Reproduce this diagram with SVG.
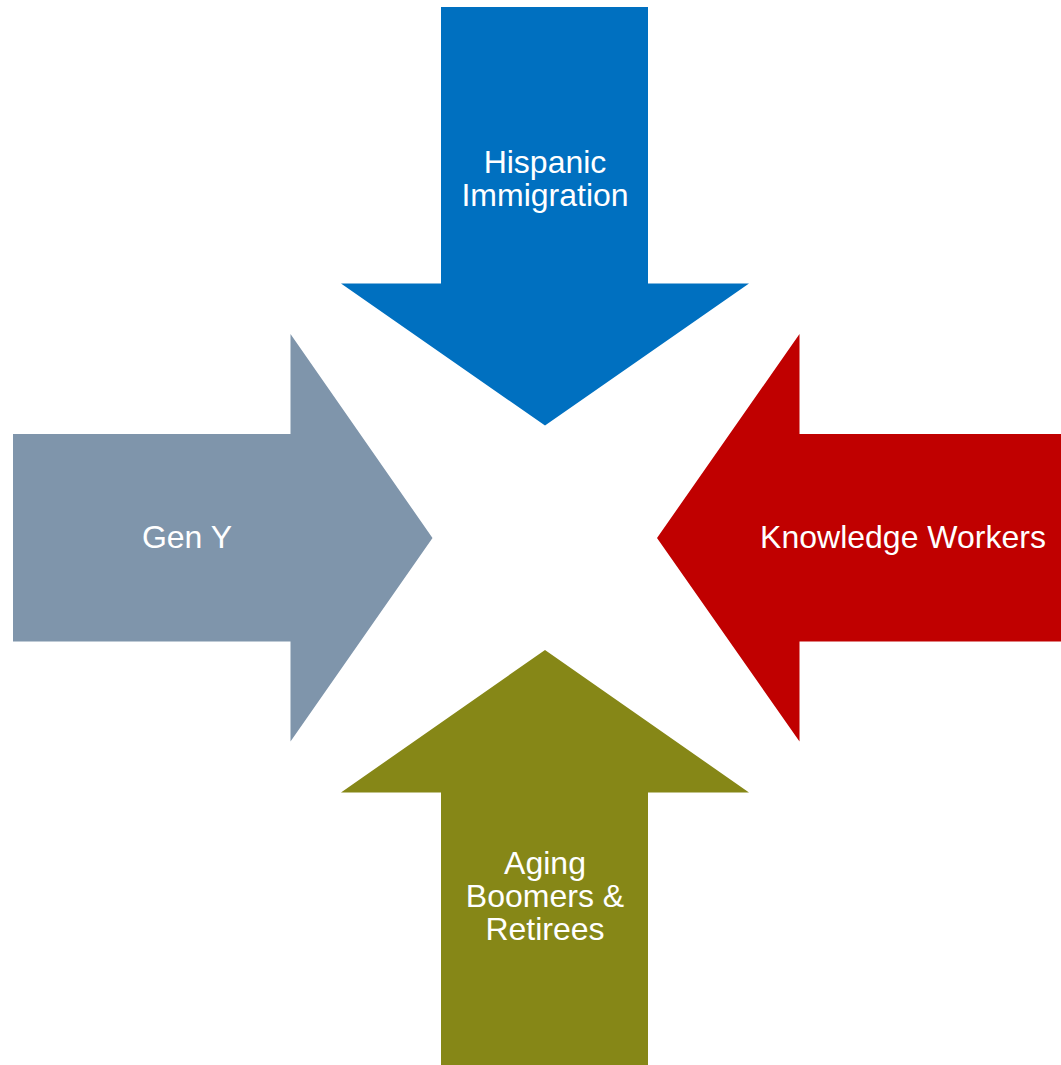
<svg xmlns="http://www.w3.org/2000/svg" width="1061" height="1065" viewBox="0 0 1061 1065">
<style>
.t{font-family:"Liberation Sans",Arial,sans-serif;font-size:32px;fill:#ffffff;text-anchor:middle}
</style>
<rect width="1061" height="1065" fill="#ffffff"/>
<g id="hispanic">
<polygon points="441,7 648,7 648,283.5 749,283.5 545,425.5 341,283.5 441,283.5" fill="#0070C0"/>
<text class="t" x="545" y="173">Hispanic</text>
<text class="t" x="545" y="206">Immigration</text>
</g>
<g id="geny">
<polygon points="13,434 290.5,434 290.5,334 432.5,538 290.5,741.5 290.5,641.5 13,641.5" fill="#7F95AB"/>
<text class="t" x="187" y="548">Gen Y</text>
</g>
<g id="knowledge">
<polygon points="1061,434 799.5,434 799.5,334 657,538 799.5,741.5 799.5,641.5 1061,641.5" fill="#C00000"/>
<text class="t" x="903" y="548">Knowledge Workers</text>
</g>
<g id="aging">
<polygon points="441,1065 648,1065 648,792.5 749,792.5 545,650 341,792.5 441,792.5" fill="#868717"/>
<text class="t" x="545" y="874">Aging</text>
<text class="t" x="545" y="907">Boomers &amp;</text>
<text class="t" x="545" y="940">Retirees</text>
</g>
<g id="connectors"/>
</svg>
